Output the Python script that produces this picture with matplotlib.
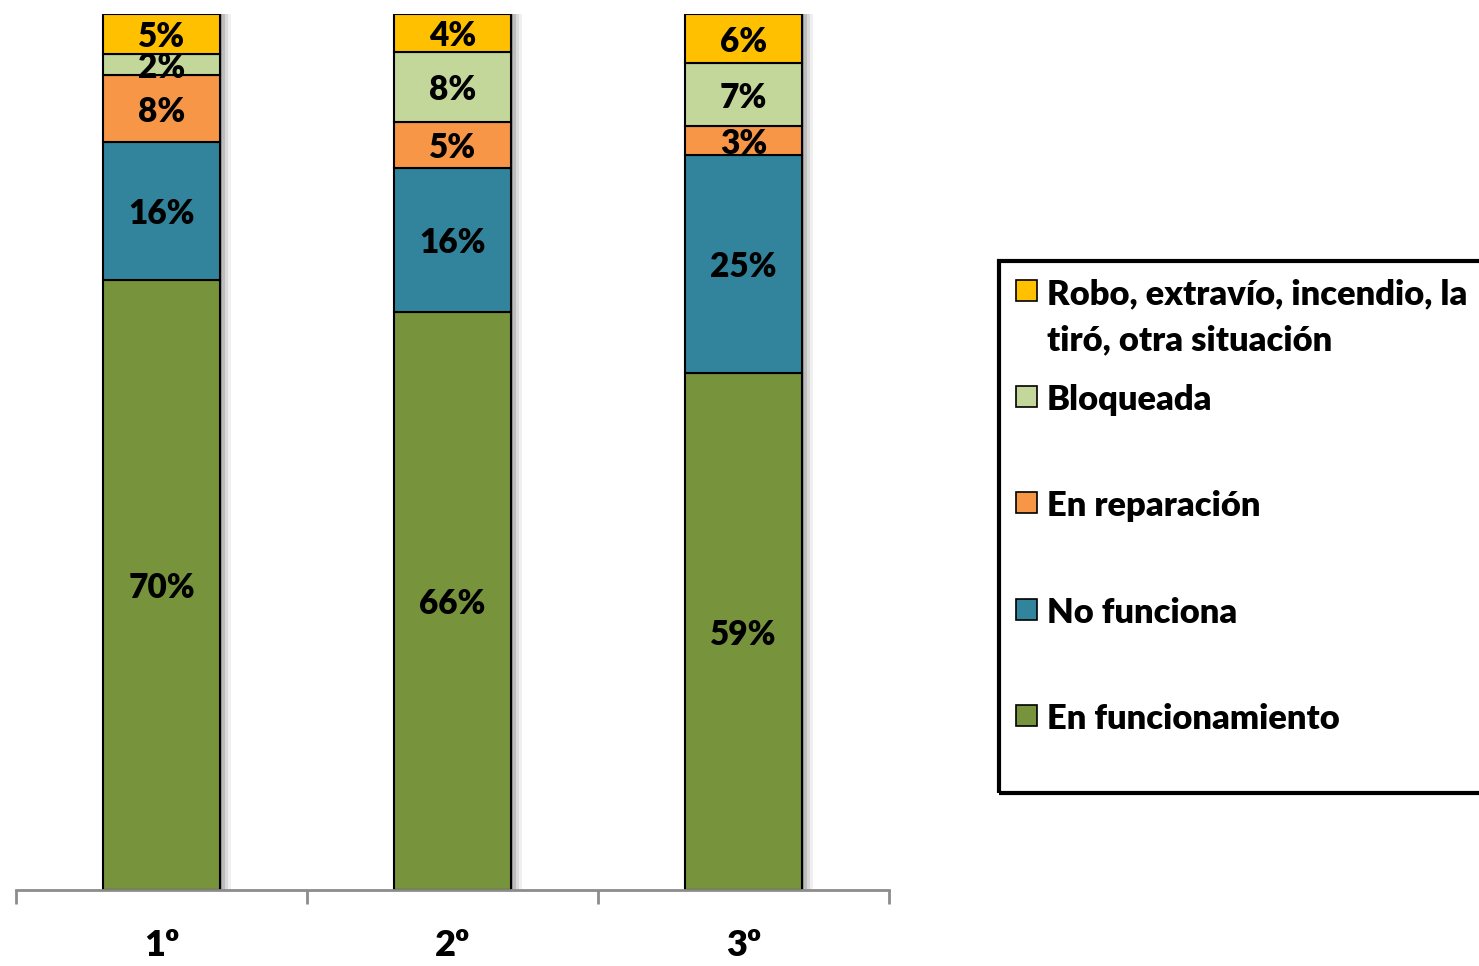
import matplotlib
matplotlib.use("Agg")
import matplotlib.pyplot as plt
import matplotlib.patheffects as pe
from matplotlib.patches import Rectangle
import numpy as np

plt.rcParams['font.family'] = ['Lato', 'DejaVu Sans']
WEIGHT = 'heavy'

categories = ['1º', '2º', '3º']
series_names = ['En funcionamiento', 'No funciona', 'En reparación', 'Bloqueada',
                'Robo, extravío, incendio, la\ntiró, otra situación']
en_funcionamiento = [69.6, 66.0, 59.0]
no_funciona = [15.8, 16.4, 24.9]
en_reparacion = [7.6, 5.3, 3.3]
bloqueada = [2.4, 8.0, 7.2]
robo = [4.6, 4.3, 5.6]
series = [en_funcionamiento, no_funciona, en_reparacion, bloqueada, robo]
colors = ['#77933C', '#31849B', '#F79646', '#C4D79B', '#FFC000']

W, H = 1479, 966
fig = plt.figure(figsize=(W / 100, H / 100), dpi=100)
ax = fig.add_axes([16 / W, (H - 890) / H, (889 - 16) / W, (890 - 14) / H])

x = np.arange(len(categories))
shadow = [pe.SimplePatchShadow(offset=(8, 0), shadow_rgbFace='#cccccc', alpha=0.3),
          pe.SimplePatchShadow(offset=(6, 0), shadow_rgbFace='#aaaaaa', alpha=0.3),
          pe.SimplePatchShadow(offset=(4, 0), shadow_rgbFace='#888888', alpha=0.35),
          pe.SimplePatchShadow(offset=(2, 0), shadow_rgbFace='#666666', alpha=0.4),
          pe.Normal()]
bottom = np.zeros(len(categories))
for name, vals, col in zip(series_names, series, colors):
    vals = np.array(vals)
    bars = ax.bar(x, vals, 0.4, bottom=bottom, color=col, edgecolor='black',
                  linewidth=1.5, zorder=2)
    for b in bars:
        b.set_path_effects(shadow)
    anns = ax.bar_label(bars, labels=[f'{v:.0f}%' for v in vals], label_type='center',
                        fontsize=24, fontweight=WEIGHT, color='black', zorder=3)
    for a in anns:
        a.set_va('center_baseline')
    bottom += vals

ax.set_xlim(-0.5, len(categories) - 0.5)
ax.set_ylim(0, 100)
for s in ['left', 'right', 'top']:
    ax.spines[s].set_visible(False)
ax.spines['bottom'].set_color('#8c8c8c')
ax.spines['bottom'].set_linewidth(2)
ax.set_yticks([])
ax.set_xticks(x)
ax.set_xticklabels(categories, fontsize=26, fontweight=WEIGHT)
ax.tick_params(axis='x', which='major', length=0, pad=28)
ax.set_xticks(np.arange(-0.5, len(categories)), minor=True)
ax.tick_params(axis='x', which='minor', length=10, width=2, color='#8c8c8c')

# legend frame (extends past the right edge as in the reference)
frame = Rectangle((999 / W, (H - 793) / H), 600 / W, (793 - 261) / H,
                  transform=fig.transFigure, fill=False, edgecolor='black',
                  linewidth=3, clip_on=False)
fig.patches.append(frame)

# legend entries, top to bottom (reverse stacking order)
entry_rows = [291, 397, 503, 610, 716]   # pixel row of first text line
line_gap = 46
for name, col, row in zip(series_names[::-1], colors[::-1], entry_rows):
    sq = Rectangle((1016 / W, (H - row - 10) / H), 21 / W, 21 / H,
                   transform=fig.transFigure, facecolor=col, edgecolor='black',
                   linewidth=1.2)
    fig.patches.append(sq)
    for i, line in enumerate(name.split('\n')):
        fig.text(1047 / W, (H - row - i * line_gap) / H, line, fontsize=24.8,
                 fontweight=WEIGHT, va='center_baseline', ha='left')

fig.savefig('out.png', dpi=100)
